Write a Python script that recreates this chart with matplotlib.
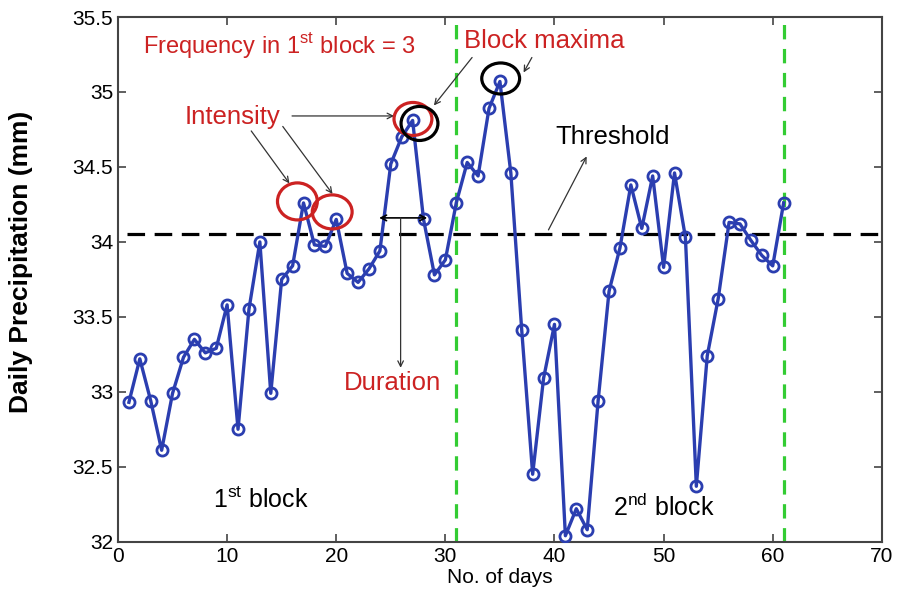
import numpy as np
from matplotlib import pyplot as plt
from matplotlib.patches import Ellipse

plt.rcParams['font.family'] = ['Liberation Sans', 'DejaVu Sans']
plt.rcParams['mathtext.fontset'] = 'custom'
plt.rcParams['mathtext.rm'] = 'Liberation Sans'

# daily precipitation (mm), days 1..61
days = np.arange(1, 62)
precip = [32.93, 33.22, 32.94, 32.61, 32.99, 33.23, 33.35, 33.26, 33.29, 33.58,
          32.75, 33.55, 34.00, 32.99, 33.75, 33.84, 34.26, 33.98, 33.97, 34.15,
          33.79, 33.73, 33.82, 33.94, 34.52, 34.70, 34.81, 34.15, 33.78, 33.88,
          34.26, 34.53, 34.44, 34.89, 35.07, 34.46, 33.41, 32.45, 33.09, 33.45,
          32.04, 32.22, 32.08, 32.94, 33.67, 33.96, 34.38, 34.09, 34.44, 33.83,
          34.46, 34.03, 32.37, 33.24, 33.62, 34.13, 34.12, 34.01, 33.91, 33.84,
          34.26]
threshold = 34.05
block_edges = [31, 61]

blue = '#2b3eb0'
red = '#cc2222'
arrow_kw = dict(arrowstyle='->', color='#333333', lw=0.9, shrinkA=0, shrinkB=0)

fig = plt.figure(figsize=(8.98, 5.97), dpi=100)
ax = fig.add_axes([0.1314, 0.0926, 0.8506, 0.8789])

ax.plot(days, precip, color=blue, lw=2.4, marker='o', ms=8,
        mfc='none', mec=blue, mew=2.0, zorder=3)
ax.plot([0.8, 70], [threshold, threshold], color='black', lw=2.3,
        ls=(0, (5.5, 3)), zorder=2)
for xb in block_edges:
    ax.axvline(xb, color='#33cc33', lw=2.3, ls=(0, (4.5, 3)), zorder=2)

# circles
for (cx, cy, w, h, c) in [(16.44, 34.27, 3.65, 0.247, red),
                          (19.63, 34.20, 3.65, 0.227, red),
                          (27.03, 34.82, 3.47, 0.22, red),
                          (27.63, 34.79, 3.38, 0.227, 'black'),
                          (35.07, 35.09, 3.47, 0.207, 'black')]:
    ax.add_patch(Ellipse((cx, cy), w, h, fill=False, ec=c, lw=2.3, zorder=4))

# texts
ax.text(2.28, 35.31, 'Frequency in 1$^{\\mathrm{st}}$ block = 3', color=red,
        fontsize=17, va='center')
ax.text(6.12, 34.83, 'Intensity', color=red, fontsize=18.5, va='center')
ax.text(31.7, 35.34, 'Block maxima', color=red, fontsize=18.5, va='center')
ax.text(40.1, 34.70, 'Threshold', color='black', fontsize=18.5, va='center')
ax.text(20.7, 33.06, 'Duration', color=red, fontsize=18.5, va='center')
ax.text(8.68, 32.28, '1$^{\\mathrm{st}}$ block', color='black', fontsize=18, va='center')
ax.text(45.4, 32.23, '2$^{\\mathrm{nd}}$ block', color='black', fontsize=18, va='center')

# arrows
ax.annotate('', xy=(15.71, 34.39), xytext=(12.21, 34.74), arrowprops=arrow_kw)
ax.annotate('', xy=(19.66, 34.32), xytext=(15.10, 34.77), arrowprops=arrow_kw)
ax.annotate('', xy=(25.30, 34.84), xytext=(15.95, 34.84), arrowprops=arrow_kw)
ax.annotate('', xy=(28.95, 34.91), xytext=(32.45, 35.23), arrowprops=arrow_kw)
ax.annotate('', xy=(37.17, 35.13), xytext=(37.93, 35.23), arrowprops=arrow_kw)
ax.annotate('', xy=(42.95, 34.57), xytext=(39.45, 34.08), arrowprops=arrow_kw)
ax.annotate('', xy=(28.34, 34.16), xytext=(23.93, 34.16),
            arrowprops=dict(arrowstyle='<->', color='black', lw=1.2,
                            shrinkA=0, shrinkB=0))
ax.annotate('', xy=(25.9, 33.16), xytext=(25.9, 34.16), arrowprops=arrow_kw)

ax.set_xlim(0, 70)
ax.set_ylim(32, 35.5)
ax.set_xticks(range(0, 71, 10))
ax.set_yticks(np.arange(32, 35.51, 0.5))
ax.set_yticklabels(['32', '32.5', '33', '33.5', '34', '34.5', '35', '35.5'])
ax.tick_params(direction='in', length=6, width=1.2, labelsize=15,
               top=True, right=True, color='#444444')
for s in ax.spines.values():
    s.set_color('#444444')
    s.set_linewidth(1.5)
ax.set_xlabel('No. of days', fontsize=15, labelpad=2)
ax.set_ylabel('Daily Precipitation (mm)', fontsize=19, fontweight='bold')
ax.yaxis.set_label_coords(-0.111, 0.533)

fig.savefig('out.png', dpi=100)
